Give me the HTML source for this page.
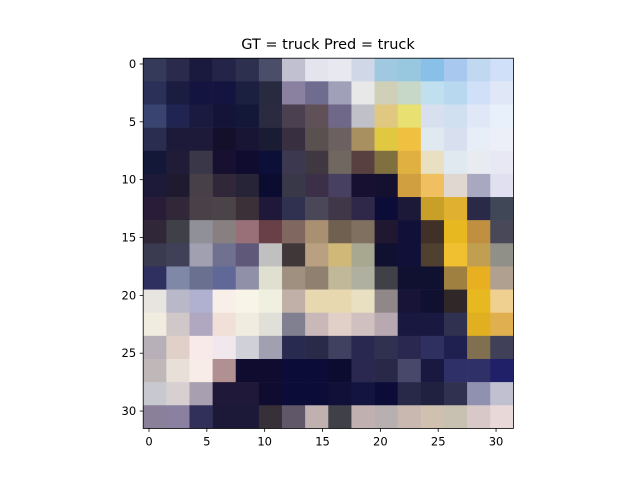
<!DOCTYPE html>
<html><head><meta charset="utf-8"><style>
body{margin:0;background:#fff;font-family:"Liberation Sans","DejaVu Sans",sans-serif;}
svg text{font-family:"DejaVu Sans","Liberation Sans",sans-serif;}
</style></head><body>
<svg id="chart" width="640" height="480" viewBox="0 0 640 480" xmlns="http://www.w3.org/2000/svg">
<rect width="640" height="480" fill="#fff"/>
<text x="328" y="49" font-size="14.5" text-anchor="middle">GT = truck Pred = truck</text>
<g id="cells"></g>
<g id="axes"></g>
</svg>
<script>
const xTicks = [0,5,10,15,20,25,30];
const yTicks = [0,5,10,15,20,25,30];
const pixelRows = [
["#363a5a","#2a2a4a","#1a1a3e","#242448","#2e3050","#4a4e68","#c0c0d0","#e4e4ee","#e8e8f0","#d0d8e8","#a0c8e0","#98c8e0","#88c0e8","#a8c8f0","#c0d8f0","#d0e0f8"],
["#2a3058","#1a1c40","#141440","#141440","#1c2040","#282a40","#8a80a0","#706c90","#a0a0b8","#e8e8e8","#d0d0b8","#c8d8c8","#c0e0f0","#b8d8f0","#d0e0f8","#e0e8f8"],
["#3a4470","#202450","#1a1a40","#141438","#141838","#2a2a40","#4a4050","#605058","#706888","#c0c0c8","#e0c880","#e8e070","#d8e0f0","#d0e0f0","#e0e8f8","#e8f0fc"],
["#2a2c50","#1c1a38","#1c1a38","#14102c","#181434","#1a1c34","#383040","#5a5050","#6c6060","#a89060","#e0c840","#f0c040","#e0e8f0","#d8e0f0","#e8eef8","#eceef8"],
["#141838","#201c38","#3a3848","#181030","#100c30","#0c1038","#3c3850","#403840","#706860","#584040","#807040","#e0b040","#e8e0c0","#e0e8f0","#e8ecf0","#e8e8f4"],
["#1c1a38","#201a30","#484048","#302838","#282438","#0c0c30","#383848","#3c3048","#484060","#181030","#141030","#d0a040","#f0c060","#e0d8d0","#a8a8c0","#e0e0f0"],
["#281c38","#302838","#4a4048","#4a4448","#3c3038","#201838","#303050","#4a4858","#403848","#302848","#0c0c38","#1c1838","#c8a028","#e0b030","#2a2a48","#404858"],
["#302838","#404048","#909098","#888080","#9a7078","#6a4048","#806860","#a89070","#706050","#807060","#201830","#101038","#403028","#e8b820","#c09040","#484858"],
["#3a3a50","#404058","#a0a0b0","#707090","#605878","#c0c0c0","#403838","#b8a080","#d0b878","#a8a890","#101030","#101038","#504030","#f0c030","#c0a050","#909088"],
["#303060","#8088a8","#6a7090","#606898","#9090a8","#e0e0d0","#a09080","#908070","#c0b898","#b0b0a0","#404048","#101030","#101030","#a08040","#e8b020","#b0a090"],
["#e8e4e0","#b8b8c8","#b0b0d0","#f8f0e8","#f8f4e8","#f0f0e0","#c0b0a8","#e8d8b0","#e8d8b0","#e8e0c0","#908888","#181438","#101030","#302828","#e8b820","#f0d090"],
["#f0ece0","#d0c8c8","#b0a8c0","#f0e0d8","#f0ece0","#e0e0d8","#808090","#c8b8b8","#e0d0c8","#d0c0c0","#b8a8b0","#181840","#181840","#303050","#e0b020","#e0b050"],
["#b8b0b8","#e0d0c8","#f8eae8","#f0e8ec","#d0d0d8","#a0a0b0","#282a50","#282a48","#404060","#282850","#303050","#2a2850","#303060","#202050","#807050","#404058"],
["#c0b8b8","#e8e0d8","#f8ece8","#b09090","#100c30","#100c30","#0c0c38","#0c0c38","#0c0c30","#2a2850","#2a2848","#48486a","#181840","#303068","#303068","#202068"],
["#c8c8d0","#d8d0d0","#a8a0b0","#201838","#201838","#100c30","#0c0c38","#0c0c38","#101038","#141440","#0c0c38","#282848","#202040","#303050","#9090b0","#c0c0d0"],
["#8a809a","#8a80a0","#30305a","#1c1838","#1c1838","#383038","#605868","#c0b0b0","#404048","#c0b0b0","#b8b0b0","#c8b8b0","#d0c0b0","#c8c0b0","#d8c8c8","#e8d8d8"]
];
const NS="http://www.w3.org/2000/svg";
const X0=143.2, X1=513.4, Y0=58.2, Y1=428.4, N=32;
function xs(v){return X0+(v+0.5)*(X1-X0)/N;}
function ys(v){return Y0+(v+0.5)*(Y1-Y0)/N;}
const cells=document.getElementById('cells');
const bs=N/pixelRows.length;
pixelRows.forEach((row,r)=>row.forEach((c,k)=>{
  const el=document.createElementNS(NS,'rect');
  const px=k*bs, py=r*bs;
  el.setAttribute('x',xs(px-0.5));el.setAttribute('y',ys(py-0.5));
  el.setAttribute('width',xs(px+bs-0.5)-xs(px-0.5)+0.3);
  el.setAttribute('height',ys(py+bs-0.5)-ys(py-0.5)+0.3);
  el.setAttribute('fill',c);
  
  
  cells.appendChild(el);
}));
const ax=document.getElementById('axes');
const fr=document.createElementNS(NS,'rect');
fr.setAttribute('x',X0);fr.setAttribute('y',Y0);fr.setAttribute('width',X1-X0);fr.setAttribute('height',Y1-Y0);
fr.setAttribute('fill','none');fr.setAttribute('stroke','#000');fr.setAttribute('stroke-width','0.8');


ax.appendChild(fr);
xTicks.forEach(t=>{
  const l=document.createElementNS(NS,'line');
  l.setAttribute('x1',xs(t));l.setAttribute('x2',xs(t));l.setAttribute('y1',Y1);l.setAttribute('y2',Y1+3.5);
  l.setAttribute('stroke','#000');l.setAttribute('stroke-width','0.8');
  
  
  ax.appendChild(l);
  const tx=document.createElementNS(NS,'text');
  tx.setAttribute('x',xs(t));tx.setAttribute('y',Y1+17);tx.setAttribute('font-size','11.5');tx.setAttribute('text-anchor','middle');
  tx.textContent=t;
  
  
  ax.appendChild(tx);
});
yTicks.forEach(t=>{
  const l=document.createElementNS(NS,'line');
  l.setAttribute('x1',X0-3.5);l.setAttribute('x2',X0);l.setAttribute('y1',ys(t));l.setAttribute('y2',ys(t));
  l.setAttribute('stroke','#000');l.setAttribute('stroke-width','0.8');
  
  
  ax.appendChild(l);
  const tx=document.createElementNS(NS,'text');
  tx.setAttribute('x',X0-7);tx.setAttribute('y',ys(t)+4);tx.setAttribute('font-size','11.5');tx.setAttribute('text-anchor','end');
  tx.textContent=t;
  
  
  ax.appendChild(tx);
});
</script>
</body></html>
